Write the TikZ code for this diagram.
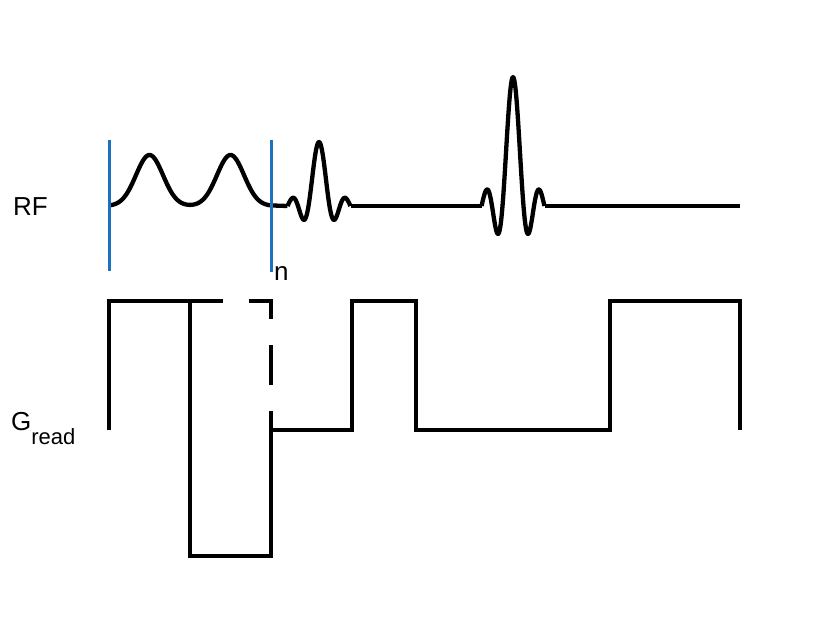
\documentclass[tikz,border=0pt]{standalone}
\usepackage{fontspec}
\setmainfont{Liberation Sans}
\definecolor{lineblue}{RGB}{30,113,190}
\begin{document}
\begin{tikzpicture}[x=1pt,y=-1pt,
  wave/.style={line width=4.3pt,black,line join=round},
  grad/.style={line width=4.3pt,black,line join=miter},
  marker/.style={line width=3pt,lineblue},
  lbl/.style={inner sep=0pt,font=\fontsize{26}{26}\selectfont}]
\useasboundingbox (0,0) rectangle (835,626);
% RF line
\draw[wave] plot[domain=0:2,samples=160,smooth] ({109+81*\x},{206-51*(exp(-0.5*pow((81*\x-40.5)/13.5,2))+exp(-0.5*pow((81*\x-121.5)/13.5,2)))})
  -- (287.5,206);
\draw[wave] plot[domain=-3:3,samples=120,smooth] ({319+10.5*\x},{206-64*sin(180*\x)/(pi*\x)});
\draw[wave] (350.5,206) -- (481.5,206);
\draw[wave] plot[domain=-3:3,samples=120,smooth] ({513+10.5*\x},{206-129*sin(180*\x)/(pi*\x)});
\draw[wave] (544.5,206) -- (740,206);
% blue markers
\draw[marker] (109,140) -- (109,271);
\draw[marker] (271,140) -- (271,272);
% gradient
\draw[grad] (109,430) -- (109,301) -- (190,301) -- (190,556) -- (271,556) -- (271,430)
  -- (352,430) -- (352,301) -- (416,301) -- (416,430) -- (610,430) -- (610,301) -- (740,301) -- (740,430);
\draw[grad,dash pattern=on 40pt off 26pt,dash phase=7pt] (190,301) -- (271,301) -- (271,430);
% labels
\node[lbl,anchor=base west] (rf) at (13,215) {RF};
\node[lbl,anchor=base west] (n) at (274,280) {n};
\node[lbl,anchor=base west] (g) at (11,430) {G\raisebox{-14pt}{\fontsize{22}{22}\selectfont read}};
\end{tikzpicture}
\end{document}
